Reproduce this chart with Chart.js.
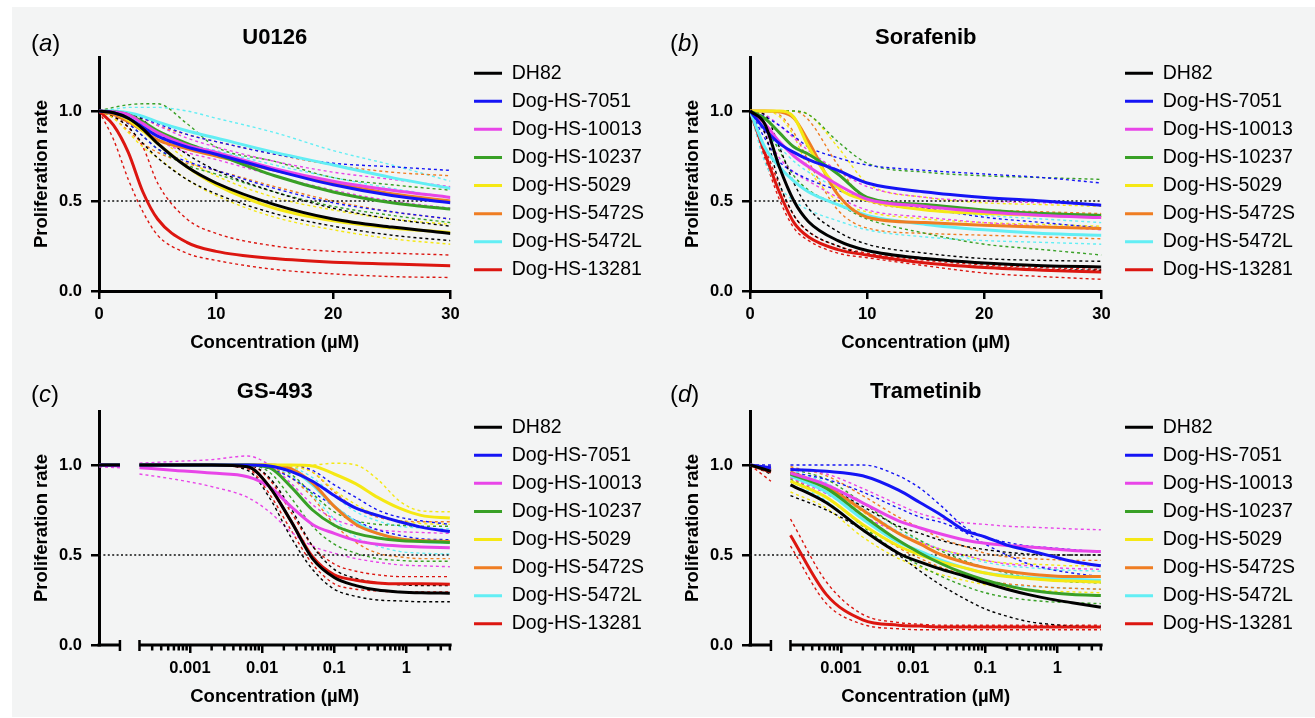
<!DOCTYPE html>
<html><head><meta charset="utf-8">
<script src="https://cdn.jsdelivr.net/npm/chart.js@4.4.1/dist/chart.umd.min.js"></script>
<style>
html,body{margin:0;padding:0;background:#fff;width:1315px;height:718px;overflow:hidden;}
#bg{position:absolute;left:12px;top:7px;width:1303px;height:710px;background:#f3f4f4;}
canvas{position:absolute;}
.lab{position:absolute;font-family:'Liberation Sans',Arial,sans-serif;font-size:24px;line-height:24px;color:#000;}
</style></head><body>
<div id="bg"></div>
<canvas id="ca" width="654" height="357" style="left:0px;top:0px"></canvas>
<canvas id="cb" width="654" height="357" style="left:651px;top:0px"></canvas>
<canvas id="cc" width="654" height="357" style="left:0px;top:354px"></canvas>
<canvas id="cd" width="654" height="357" style="left:651px;top:354px"></canvas>
<div class="lab" style="left:31px;top:31px">(<i>a</i>)</div>
<div class="lab" style="left:670px;top:31px">(<i>b</i>)</div>
<div class="lab" style="left:31px;top:382px">(<i>c</i>)</div>
<div class="lab" style="left:670px;top:382px">(<i>d</i>)</div>
<script>
// ---------- data ----------
const SERIES = ['DH82','Dog-HS-7051','Dog-HS-10013','Dog-HS-10237','Dog-HS-5029','Dog-HS-5472S','Dog-HS-5472L','Dog-HS-13281'];
const COLORS = ['#000000','#1414f5','#e845e8','#38a026','#f5e814','#ef7d22','#62eef4','#dc1610'];
const REF_LEVEL = 0.5;
const Y_TICKS = [0, 0.5, 1.0];
const LIN_TICKS = [0, 10, 20, 30];
const LOG_TICK_VALUES = [0.001, 0.01, 0.1, 1];

// concentrations (µM) for panels a, b
const LIN_X = [0, 1.25, 2.5, 3.75, 5, 7.5, 10, 15, 20, 25, 30];

const U0126_MEAN = [
  [1.0, 0.99, 0.96, 0.90, 0.82, 0.69, 0.60, 0.48, 0.40, 0.355, 0.32],
  [1.0, 0.99, 0.96, 0.91, 0.86, 0.80, 0.76, 0.67, 0.59, 0.53, 0.49],
  [1.0, 0.995, 0.98, 0.93, 0.88, 0.81, 0.77, 0.68, 0.61, 0.56, 0.52],
  [1.0, 0.995, 0.98, 0.94, 0.89, 0.82, 0.76, 0.64, 0.55, 0.49, 0.455],
  [1.0, 0.99, 0.95, 0.89, 0.82, 0.69, 0.59, 0.46, 0.39, 0.35, 0.325],
  [1.0, 0.98, 0.94, 0.89, 0.84, 0.79, 0.75, 0.67, 0.60, 0.54, 0.50],
  [1.0, 1.0, 0.99, 0.97, 0.94, 0.89, 0.85, 0.77, 0.70, 0.63, 0.57],
  [1.0, 0.92, 0.77, 0.55, 0.40, 0.27, 0.22, 0.18, 0.16, 0.15, 0.14]
];
const U0126_LO = [
  [1.0, 0.97, 0.91, 0.82, 0.74, 0.62, 0.54, 0.43, 0.36, 0.31, 0.28],
  [1.0, 0.98, 0.93, 0.86, 0.79, 0.72, 0.67, 0.57, 0.49, 0.44, 0.40],
  [1.0, 0.99, 0.96, 0.90, 0.84, 0.77, 0.73, 0.64, 0.56, 0.50, 0.46],
  [1.0, 0.98, 0.93, 0.86, 0.79, 0.70, 0.65, 0.55, 0.47, 0.42, 0.38],
  [1.0, 0.96, 0.88, 0.80, 0.74, 0.62, 0.53, 0.41, 0.34, 0.29, 0.26],
  [1.0, 0.96, 0.89, 0.82, 0.77, 0.71, 0.67, 0.58, 0.50, 0.44, 0.40],
  [1.0, 0.99, 0.96, 0.92, 0.88, 0.82, 0.78, 0.70, 0.63, 0.57, 0.52],
  [1.0, 0.84, 0.62, 0.44, 0.31, 0.21, 0.17, 0.12, 0.095, 0.08, 0.075]
];
const U0126_HI = [
  [1.0, 1.0, 0.99, 0.95, 0.88, 0.76, 0.67, 0.55, 0.46, 0.40, 0.36],
  [1.0, 1.0, 0.99, 0.96, 0.93, 0.87, 0.83, 0.76, 0.71, 0.69, 0.67],
  [1.0, 1.0, 0.99, 0.96, 0.92, 0.85, 0.80, 0.72, 0.66, 0.62, 0.58],
  [1.0, 1.02, 1.035, 1.04, 1.04, 0.93, 0.80, 0.72, 0.63, 0.59, 0.56],
  [1.0, 1.0, 0.99, 0.93, 0.86, 0.73, 0.64, 0.52, 0.45, 0.40, 0.37],
  [1.0, 1.0, 0.99, 0.96, 0.92, 0.87, 0.83, 0.76, 0.70, 0.66, 0.64],
  [1.0, 1.01, 1.02, 1.02, 1.02, 1.0, 0.96, 0.88, 0.78, 0.70, 0.61],
  [1.0, 0.97, 0.91, 0.80, 0.60, 0.40, 0.32, 0.25, 0.22, 0.21, 0.20]
];

const SORA_MEAN = [
  [1.0, 0.93, 0.69, 0.50, 0.385, 0.28, 0.225, 0.18, 0.155, 0.14, 0.134],
  [1.0, 0.90, 0.82, 0.77, 0.73, 0.67, 0.60, 0.55, 0.52, 0.50, 0.477],
  [1.0, 0.93, 0.83, 0.75, 0.69, 0.59, 0.51, 0.47, 0.44, 0.42, 0.408],
  [1.0, 0.96, 0.88, 0.80, 0.76, 0.65, 0.52, 0.48, 0.45, 0.43, 0.42],
  [1.0, 1.0, 1.0, 0.965, 0.80, 0.575, 0.505, 0.45, 0.43, 0.42, 0.41],
  [1.0, 1.0, 0.995, 0.96, 0.83, 0.535, 0.41, 0.38, 0.365, 0.355, 0.347],
  [1.0, 0.80, 0.69, 0.61, 0.55, 0.48, 0.42, 0.37, 0.34, 0.32, 0.31],
  [1.0, 0.77, 0.55, 0.38, 0.30, 0.23, 0.20, 0.155, 0.13, 0.115, 0.105]
];
const SORA_LO = [
  [1.0, 0.88, 0.60, 0.42, 0.33, 0.25, 0.20, 0.155, 0.135, 0.12, 0.115],
  [1.0, 0.85, 0.72, 0.66, 0.62, 0.56, 0.51, 0.46, 0.41, 0.38, 0.35],
  [1.0, 0.88, 0.74, 0.66, 0.61, 0.52, 0.45, 0.41, 0.38, 0.36, 0.34],
  [1.0, 0.92, 0.78, 0.64, 0.56, 0.48, 0.40, 0.32, 0.26, 0.23, 0.20],
  [1.0, 1.0, 0.97, 0.86, 0.68, 0.50, 0.44, 0.40, 0.38, 0.37, 0.36],
  [1.0, 1.0, 0.98, 0.88, 0.72, 0.45, 0.35, 0.32, 0.31, 0.30, 0.29],
  [1.0, 0.72, 0.58, 0.50, 0.45, 0.39, 0.34, 0.30, 0.28, 0.27, 0.26],
  [1.0, 0.74, 0.51, 0.35, 0.28, 0.21, 0.185, 0.14, 0.10, 0.08, 0.065]
];
const SORA_HI = [
  [1.0, 0.98, 0.80, 0.60, 0.46, 0.33, 0.26, 0.21, 0.18, 0.17, 0.165],
  [1.0, 0.97, 0.92, 0.86, 0.80, 0.74, 0.70, 0.67, 0.65, 0.63, 0.60],
  [1.0, 0.98, 0.92, 0.85, 0.78, 0.67, 0.58, 0.52, 0.50, 0.49, 0.48],
  [1.0, 1.0, 1.0, 1.0, 0.98, 0.83, 0.71, 0.66, 0.64, 0.63, 0.62],
  [1.0, 1.0, 1.0, 1.0, 0.98, 0.80, 0.60, 0.52, 0.49, 0.48, 0.47],
  [1.0, 1.0, 1.0, 1.0, 0.95, 0.70, 0.50, 0.46, 0.45, 0.44, 0.43],
  [1.0, 0.88, 0.80, 0.72, 0.66, 0.57, 0.50, 0.45, 0.42, 0.40, 0.38],
  [1.0, 0.80, 0.59, 0.42, 0.33, 0.25, 0.21, 0.17, 0.145, 0.13, 0.12]
];

// concentrations (µM) for panels c, d (log axis)
const LOG_X = [0.0002, 0.00063, 0.002, 0.0063, 0.0126, 0.025, 0.05, 0.1, 0.2, 0.4, 0.8, 1.6, 4];

const GS493_MEAN = [
  [1.0, 1.0, 1.0, 0.99, 0.88, 0.69, 0.48, 0.375, 0.33, 0.305, 0.295, 0.29, 0.288],
  [1.0, 1.0, 1.0, 1.0, 0.995, 0.965, 0.91, 0.83, 0.76, 0.72, 0.685, 0.655, 0.63],
  [0.985, 0.97, 0.955, 0.935, 0.88, 0.77, 0.67, 0.62, 0.58, 0.56, 0.55, 0.545, 0.54],
  [1.0, 1.0, 1.0, 1.0, 0.985, 0.88, 0.75, 0.665, 0.62, 0.595, 0.58, 0.575, 0.57],
  [1.0, 1.0, 1.0, 1.0, 1.0, 1.0, 0.995, 0.95, 0.895, 0.82, 0.76, 0.72, 0.705],
  [1.0, 1.0, 1.0, 1.0, 1.0, 0.98, 0.90, 0.77, 0.67, 0.62, 0.59, 0.58, 0.575],
  [1.0, 1.0, 1.0, 1.0, 1.0, 0.975, 0.89, 0.77, 0.68, 0.62, 0.59, 0.575, 0.57],
  [1.0, 1.0, 1.0, 0.99, 0.88, 0.69, 0.49, 0.39, 0.36, 0.345, 0.34, 0.34, 0.338]
];
const GS493_LO = [
  [1.0, 1.0, 1.0, 0.97, 0.82, 0.60, 0.42, 0.31, 0.27, 0.25, 0.245, 0.24, 0.24],
  [1.0, 1.0, 1.0, 1.0, 0.98, 0.93, 0.85, 0.77, 0.69, 0.64, 0.61, 0.59, 0.585],
  [0.95, 0.92, 0.88, 0.82, 0.74, 0.63, 0.55, 0.51, 0.48, 0.46, 0.445, 0.44, 0.435],
  [1.0, 1.0, 1.0, 1.0, 0.96, 0.82, 0.66, 0.56, 0.51, 0.48, 0.47, 0.465, 0.465],
  [1.0, 1.0, 1.0, 1.0, 1.0, 0.99, 0.96, 0.86, 0.78, 0.72, 0.69, 0.675, 0.67],
  [1.0, 1.0, 1.0, 1.0, 0.99, 0.93, 0.82, 0.67, 0.57, 0.51, 0.49, 0.48, 0.48],
  [1.0, 1.0, 1.0, 1.0, 0.99, 0.94, 0.83, 0.70, 0.60, 0.55, 0.52, 0.51, 0.505],
  [1.0, 1.0, 1.0, 0.98, 0.84, 0.64, 0.45, 0.34, 0.31, 0.30, 0.295, 0.295, 0.295]
];
const GS493_HI = [
  [1.0, 1.0, 1.0, 1.0, 0.93, 0.76, 0.55, 0.42, 0.37, 0.345, 0.335, 0.33, 0.33],
  [1.0, 1.0, 1.0, 1.0, 1.0, 1.0, 0.97, 0.89, 0.82, 0.75, 0.71, 0.69, 0.67],
  [1.01, 1.02, 1.03, 1.05, 1.0, 0.90, 0.78, 0.70, 0.66, 0.64, 0.63, 0.625, 0.62],
  [1.0, 1.0, 1.0, 1.0, 1.0, 0.95, 0.84, 0.74, 0.69, 0.67, 0.665, 0.66, 0.66],
  [1.0, 1.0, 1.0, 1.0, 1.0, 1.0, 1.0, 1.01, 1.0, 0.92, 0.80, 0.745, 0.74],
  [1.0, 1.0, 1.0, 1.0, 1.0, 1.0, 0.96, 0.85, 0.76, 0.71, 0.69, 0.685, 0.685],
  [1.0, 1.0, 1.0, 1.0, 1.0, 0.99, 0.93, 0.83, 0.74, 0.69, 0.66, 0.65, 0.645],
  [1.0, 1.0, 1.0, 1.0, 0.92, 0.74, 0.55, 0.45, 0.41, 0.39, 0.38, 0.38, 0.38]
];
// untreated (control) segment, start and end values
const GS493_CTRL_MEAN = [[1,1],[1,1],[1,0.995],[1,1],[1,1],[1,1],[1,1],[1,1]];
const GS493_CTRL_LO   = [[1,1],[1,1],[0.99,0.985],[1,1],[1,1],[1,1],[1,1],[1,1]];
const GS493_CTRL_HI   = [[1,1],[1,1],[1,1],[1,1],[1,1],[1,1],[1,1],[1,1]];

const TRAM_MEAN = [
  [0.89, 0.79, 0.64, 0.51, 0.46, 0.42, 0.385, 0.345, 0.31, 0.28, 0.255, 0.235, 0.21],
  [0.975, 0.965, 0.94, 0.86, 0.79, 0.72, 0.64, 0.60, 0.555, 0.525, 0.495, 0.465, 0.44],
  [0.955, 0.89, 0.79, 0.69, 0.65, 0.615, 0.585, 0.565, 0.553, 0.545, 0.535, 0.525, 0.52],
  [0.95, 0.87, 0.72, 0.58, 0.51, 0.45, 0.40, 0.36, 0.33, 0.305, 0.29, 0.28, 0.275],
  [0.91, 0.82, 0.67, 0.55, 0.50, 0.46, 0.43, 0.40, 0.38, 0.37, 0.36, 0.355, 0.35],
  [0.96, 0.88, 0.75, 0.62, 0.56, 0.50, 0.46, 0.43, 0.41, 0.395, 0.385, 0.38, 0.38],
  [0.94, 0.85, 0.70, 0.57, 0.52, 0.47, 0.43, 0.40, 0.385, 0.375, 0.37, 0.365, 0.36],
  [0.61, 0.28, 0.14, 0.11, 0.105, 0.10, 0.10, 0.10, 0.10, 0.10, 0.10, 0.10, 0.10]
];
const TRAM_LO = [
  [0.83, 0.75, 0.64, 0.50, 0.41, 0.33, 0.26, 0.20, 0.16, 0.13, 0.115, 0.105, 0.10],
  [0.96, 0.92, 0.85, 0.76, 0.71, 0.68, 0.63, 0.56, 0.50, 0.45, 0.42, 0.40, 0.38],
  [0.93, 0.84, 0.72, 0.62, 0.57, 0.53, 0.50, 0.47, 0.45, 0.44, 0.43, 0.425, 0.42],
  [0.92, 0.82, 0.66, 0.51, 0.44, 0.38, 0.33, 0.29, 0.265, 0.25, 0.24, 0.235, 0.23],
  [0.85, 0.76, 0.60, 0.48, 0.43, 0.39, 0.36, 0.335, 0.32, 0.31, 0.30, 0.295, 0.29],
  [0.93, 0.82, 0.67, 0.54, 0.48, 0.43, 0.39, 0.36, 0.34, 0.33, 0.32, 0.315, 0.31],
  [0.91, 0.80, 0.64, 0.51, 0.46, 0.42, 0.38, 0.35, 0.335, 0.325, 0.32, 0.315, 0.31],
  [0.55, 0.23, 0.115, 0.09, 0.085, 0.085, 0.085, 0.085, 0.085, 0.085, 0.085, 0.085, 0.085]
];
const TRAM_HI = [
  [0.95, 0.88, 0.77, 0.66, 0.62, 0.58, 0.55, 0.53, 0.515, 0.505, 0.50, 0.50, 0.50],
  [1.0, 1.0, 1.0, 0.94, 0.87, 0.77, 0.66, 0.60, 0.57, 0.55, 0.54, 0.53, 0.515],
  [0.98, 0.95, 0.87, 0.78, 0.73, 0.70, 0.68, 0.67, 0.66, 0.655, 0.65, 0.645, 0.64],
  [0.98, 0.92, 0.79, 0.65, 0.58, 0.52, 0.47, 0.43, 0.40, 0.375, 0.36, 0.35, 0.345],
  [0.96, 0.88, 0.74, 0.62, 0.57, 0.53, 0.50, 0.47, 0.455, 0.45, 0.445, 0.44, 0.44],
  [0.99, 0.94, 0.83, 0.71, 0.65, 0.59, 0.55, 0.51, 0.49, 0.48, 0.475, 0.47, 0.47],
  [0.97, 0.90, 0.76, 0.63, 0.58, 0.53, 0.49, 0.46, 0.44, 0.43, 0.42, 0.415, 0.41],
  [0.70, 0.35, 0.17, 0.125, 0.115, 0.11, 0.11, 0.11, 0.11, 0.11, 0.11, 0.11, 0.11]
];
const TRAM_CTRL_MEAN = [[1,0.965],[1,0.985],[1,0.975],[1,0.975],[1,0.97],[1,0.98],[1,0.98],[1,0.96]];
const TRAM_CTRL_LO   = [[1,0.95],[1,0.97],[1,0.96],[1,0.96],[1,0.955],[1,0.965],[1,0.965],[1,0.91]];
const TRAM_CTRL_HI   = [[1,0.98],[1,1.0],[1,0.99],[1,0.99],[1,0.985],[1,0.995],[1,0.99],[1,0.99]];

// ---------- axis geometry (log10 units for c, d) ----------
const LOG_MIN = -4.26, LOG_MAX = 0.61;
const CTRL_START = -4.26, CTRL_END = -3.97;

const FONT = "'Liberation Sans', Arial, Helvetica, sans-serif";
Chart.defaults.font.family = FONT;
Chart.defaults.color = '#000';

function seriesPoints(xs, vals, isLog, ctrl) {
  const pts = [];
  if (ctrl) {
    pts.push({x: CTRL_START, y: ctrl[0]}, {x: CTRL_END, y: ctrl[1]},
             {x: (CTRL_END + Math.log10(xs[0])) / 2, y: null});
  }
  xs.forEach((x, i) => pts.push({x: isLog ? Math.log10(x) : x, y: vals[i]}));
  return pts;
}

function buildDatasets(p) {
  const ds = [];
  SERIES.forEach((name, i) => ds.push({
    label: name,
    data: seriesPoints(p.xs, p.mean[i], p.log, p.ctrlMean && p.ctrlMean[i]),
    borderColor: COLORS[i], backgroundColor: COLORS[i], borderWidth: 3,
    pointRadius: 0, fill: false, cubicInterpolationMode: 'monotone'
  }));
  ds.push({
    label: 'ref', data: [{x: p.xmin, y: REF_LEVEL}, {x: p.xmax, y: REF_LEVEL}],
    borderColor: '#111', borderWidth: 1.7, borderDash: [2, 2.4], pointRadius: 0, fill: false
  });
  SERIES.forEach((name, i) => {
    [['lower', p.lo, p.ctrlLo], ['upper', p.hi, p.ctrlHi]].forEach(([tag, arr, ctrl]) => ds.push({
      label: name + ' ' + tag,
      data: seriesPoints(p.xs, arr[i], p.log, ctrl && ctrl[i]),
      borderColor: COLORS[i], borderWidth: 1.4, borderDash: [3, 3],
      pointRadius: 0, fill: false, cubicInterpolationMode: 'monotone'
    }));
  });
  return ds;
}

const brokenAxis = {
  id: 'brokenAxis',
  afterDraw(chart, args, o) {
    if (!o || !o.enabled) return;
    const ctx = chart.ctx, xs = chart.scales.x, ys = chart.scales.y;
    const y0 = ys.getPixelForValue(0);
    const px = v => xs.getPixelForValue(v);
    const logStart = Math.log10(LOG_X[0]);
    ctx.save();
    ctx.strokeStyle = '#000';
    ctx.lineWidth = 3;
    ctx.beginPath();
    ctx.moveTo(px(LOG_MIN) - 1.5, y0); ctx.lineTo(px(CTRL_END), y0);
    ctx.moveTo(px(logStart), y0); ctx.lineTo(px(LOG_MAX) + 1.2, y0);
    ctx.stroke();
    ctx.lineWidth = 2.5;
    ctx.beginPath();
    [CTRL_END, logStart].forEach(v => { ctx.moveTo(px(v), y0 - 5); ctx.lineTo(px(v), y0 + 6); });
    for (let d = -4; d <= 0; d++) {
      for (let k = 2; k <= 9; k++) {
        const L = d + Math.log10(k);
        if (L < logStart || L > LOG_MAX) continue;
        ctx.moveTo(px(L), y0); ctx.lineTo(px(L), y0 + 5.5);
      }
    }
    ctx.stroke();
    ctx.restore();
  }
};

function makeChart(id, title, p) {
  const tickFont = {family: FONT, size: 16.5, weight: 'bold'};
  const titleFont = {family: FONT, size: 18.5, weight: 'bold'};
  const xTitle = {display: true, text: 'Concentration (µM)', font: titleFont, color: '#000', padding: {top: 0, bottom: 2.9}};
  const xScale = {
    type: 'linear', position: 'bottom', min: p.xmin, max: p.xmax,
    afterFit: s => { s.height = 66; },
    afterBuildTicks: s => {
      s.ticks = (p.log ? LOG_TICK_VALUES.map(v => Math.log10(v)) : LIN_TICKS).map(v => ({value: v}));
    },
    ticks: {
      font: tickFont, color: '#000', padding: 6, maxRotation: 0, autoSkip: false,
      callback: (v, i) => p.log ? String(LOG_TICK_VALUES[i]) : String(v)
    },
    grid: {display: true, drawOnChartArea: false, drawTicks: true, tickLength: 8, tickWidth: 2.5, tickColor: '#000', color: '#000', lineWidth: 2.5},
    border: {display: !p.log, width: 3, color: '#000'},
    title: xTitle
  };
  const yScale = {
    type: 'linear', position: 'left', min: 0, max: 1.3,
    afterFit: s => { s.width = 99; },
    afterBuildTicks: s => { s.ticks = Y_TICKS.map(v => ({value: v})); },
    ticks: {font: tickFont, color: '#000', padding: 9, callback: v => Number(v).toFixed(1)},
    grid: {display: true, drawOnChartArea: false, drawTicks: true, tickLength: 8, tickWidth: 2.5, tickColor: '#000', color: '#000', lineWidth: 2.5},
    border: {display: true, width: 3, color: '#000'},
    title: {display: true, text: 'Proliferation rate', font: titleFont, color: '#000', padding: {top: 31, bottom: 0}}
  };
  const gapScale = {
    type: 'linear', position: 'right', display: true,
    grid: {display: false, drawTicks: false}, border: {display: false}, ticks: {display: false},
    afterFit: s => { s.width = 15; }
  };
  return new Chart(document.getElementById(id), {
    type: 'line',
    data: {datasets: buildDatasets(p)},
    options: {
      responsive: false, animation: false, devicePixelRatio: 1,
      layout: {padding: {top: 5, left: 0, right: 0, bottom: 0}},
      scales: {x: xScale, y: yScale, gap: gapScale},
      plugins: {
        title: {display: true, text: title, fullSize: false, color: '#000',
                font: {family: FONT, size: 22, weight: 'bold'}, padding: {top: 19.8, bottom: 5.8}},
        legend: {
          display: true, position: 'right', align: 'start', fullSize: true, maxWidth: 260,
          title: {display: true, text: ' ', font: {size: 10, lineHeight: 1}, padding: {top: 39.8, bottom: 0}},
          labels: {
            usePointStyle: true, pointStyle: 'line', pointStyleWidth: 28, padding: 8.6,
            color: '#000', font: {family: FONT, size: 19.5},
            filter: item => item.datasetIndex < SERIES.length
          }
        },
        tooltip: {enabled: false},
        brokenAxis: {enabled: !!p.log}
      }
    },
    plugins: [brokenAxis]
  });
}

makeChart('ca', 'U0126', {xs: LIN_X, log: false, xmin: 0, xmax: 30, mean: U0126_MEAN, lo: U0126_LO, hi: U0126_HI});
makeChart('cb', 'Sorafenib', {xs: LIN_X, log: false, xmin: 0, xmax: 30, mean: SORA_MEAN, lo: SORA_LO, hi: SORA_HI});
makeChart('cc', 'GS-493', {xs: LOG_X, log: true, xmin: LOG_MIN, xmax: LOG_MAX, mean: GS493_MEAN, lo: GS493_LO, hi: GS493_HI,
  ctrlMean: GS493_CTRL_MEAN, ctrlLo: GS493_CTRL_LO, ctrlHi: GS493_CTRL_HI});
makeChart('cd', 'Trametinib', {xs: LOG_X, log: true, xmin: LOG_MIN, xmax: LOG_MAX, mean: TRAM_MEAN, lo: TRAM_LO, hi: TRAM_HI,
  ctrlMean: TRAM_CTRL_MEAN, ctrlLo: TRAM_CTRL_LO, ctrlHi: TRAM_CTRL_HI});
</script>
</body></html>
